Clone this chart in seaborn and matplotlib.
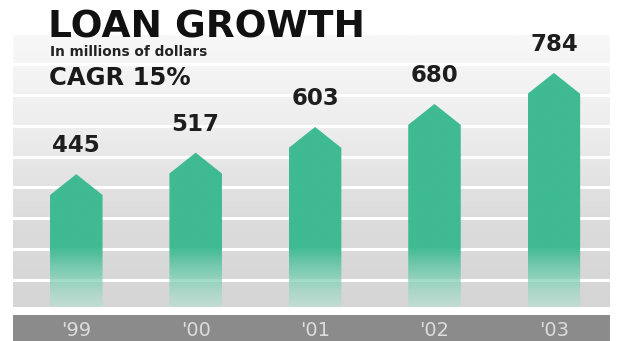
import numpy as np
import pandas as pd
import matplotlib
matplotlib.use("Agg")
import matplotlib.pyplot as plt
from matplotlib.patches import Polygon
from matplotlib.colors import LinearSegmentedColormap, to_rgb
import seaborn as sns

# ---- data ----
years = ["'99", "'00", "'01", "'02", "'03"]
loans = [445, 517, 603, 680, 784]
title = "LOAN GROWTH"
subtitle = "In millions of dollars"
cagr = "CAGR 15%"

GREEN = "#3fba93"
W, H = 621, 341
df = pd.DataFrame({"year": years, "loan": loans})

fig = plt.figure(figsize=(W / 100, H / 100), dpi=100)
fig.patch.set_facecolor("white")

ax = fig.add_axes([13 / W, (H - 307) / H, 597 / W, (307 - 35) / H])
YMAX = 911
XLIM = (-0.53, 4.47)
sns.barplot(data=df, x="year", y="loan", color=GREEN, width=0.44, ax=ax,
            saturation=1, zorder=3)

# background vertical gradient (light at top, gray at bottom)
bg = np.linspace(0, 1, 256).reshape(-1, 1)
bg_cmap = LinearSegmentedColormap.from_list("bg", ["#d5d5d5", "#dcdcdc", "#eeeeee", "#f8f8f8"])
ax.imshow(bg, extent=(XLIM[0], XLIM[1], 0, YMAX), origin="lower", aspect="auto",
          cmap=bg_cmap, zorder=0)

# white horizontal stripes
for yv in np.arange(90, YMAX, 103.5):
    ax.axhline(yv, color="white", lw=2.2, zorder=1)

# bars: pentagon shape with fading bottom
g = np.array(to_rgb(GREEN))
pale = np.array(to_rgb("#b4e2d1"))
n = 400
yy = np.linspace(0, YMAX, n)
fade_top = 200.0
t = np.clip(yy / fade_top, 0, 1)
rgba = np.zeros((n, 1, 4))
for k in range(3):
    rgba[:, 0, k] = pale[k] + (g[k] - pale[k]) * t
rgba[:, 0, 3] = 0.55 + 0.45 * t

CAP = 70  # height of the arrow tip in data units
for patch, val in zip(ax.patches, loans):
    x0 = patch.get_x()
    w = patch.get_width()
    h = patch.get_height()
    patch.set_alpha(0)
    poly = Polygon([(x0, 0), (x0, h - CAP), (x0 + w / 2, h), (x0 + w, h - CAP), (x0 + w, 0)],
                   closed=True, transform=ax.transData, facecolor="none", edgecolor="none")
    ax.add_patch(poly)
    im = ax.imshow(rgba, extent=(x0, x0 + w, 0, YMAX), origin="lower", aspect="auto",
                   zorder=3, interpolation="bilinear")
    im.set_clip_path(poly)
    ax.annotate(str(val), (x0 + w / 2, h), xytext=(0, 12), textcoords="offset points",
                ha="center", va="bottom", fontsize=16.5, fontweight="bold", color="#1e1e1e")

ax.set_xlim(*XLIM)
ax.set_ylim(0, YMAX)
ax.set_xlabel("")
ax.set_ylabel("")
ax.set_xticks([])
ax.set_yticks([])
for s in ax.spines.values():
    s.set_visible(False)

# dark category band at bottom
ax2 = fig.add_axes([13 / W, 0, 597 / W, (H - 315) / H])
ax2.set_facecolor("#8b8b8b")
ax2.set_xlim(*XLIM)
ax2.set_ylim(0, 1)
ax2.set_xticks([])
ax2.set_yticks([])
for s in ax2.spines.values():
    s.set_visible(False)
for i, lab in enumerate(years):
    ax2.text(i, 0.42, lab, ha="center", va="center", fontsize=14,
             color="#dcdcdc")

# titles
fig.text(48 / W, 1 - 37 / H, title, fontsize=27, fontweight="bold", color="#111111",
         va="baseline", ha="left")
fig.text(50 / W, 1 - 55.5 / H, subtitle, fontsize=9.8, fontweight="bold", color="#222222",
         va="baseline", ha="left")
fig.text(49 / W, 1 - 85 / H, cagr, fontsize=17.5, fontweight="bold", color="#1a1a1a",
         va="baseline", ha="left")

fig.savefig("out.png", dpi=100)
